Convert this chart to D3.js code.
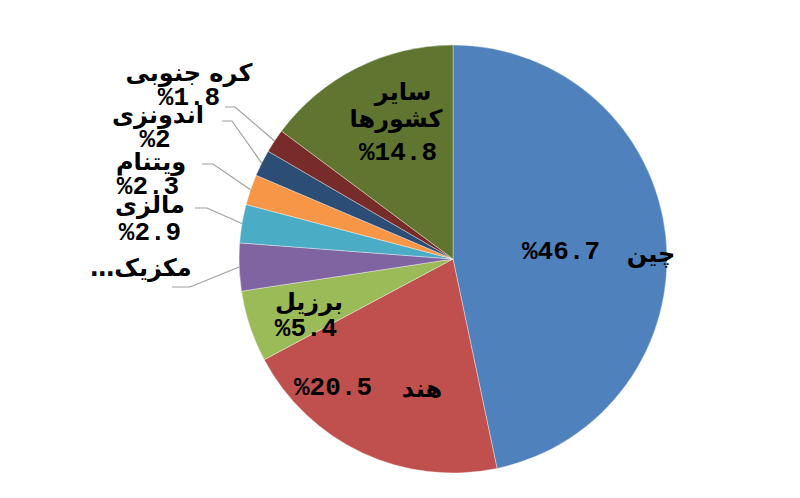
<!DOCTYPE html>
<html><head><meta charset="utf-8">
<script src="https://cdn.jsdelivr.net/npm/d3@7"></script>
<style>
html,body{margin:0;padding:0;background:#fff;}
svg{display:block;}
.num{font-family:"Liberation Mono","Courier New",monospace;font-weight:bold;fill:#000;}
.name{font-family:"DejaVu Sans","Noto Sans",sans-serif;font-weight:bold;fill:#000;}
</style>
</head><body>
<svg id="chart" width="800" height="498"></svg>
<script>
// Data
const categories = ["چین","هند","برزیل","مکزیک","مالزی","ویتنام","اندونزی","کره جنوبی","سایر کشورها"];
const values = [46.7, 20.5, 5.4, 3.6, 2.9, 2.3, 2, 1.8, 14.8];
const valueLabels = ["%46.7","%20.5","%5.4","","%2.9","%2.3","%2","%1.8","%14.8"];
const colors = ["#4F81BD","#C0504D","#9BBB59","#8064A2","#4BACC6","#F79646","#2C4D75","#772C2A","#5F7530"];

// Layout (label placement)
const cx = 453, cy = 259, R = 214;
const nameLines = [
  [{t:"چین", x:651, y:262}],
  [{t:"هند", x:422, y:397}],
  [{t:"برزیل", x:309, y:310}],
  [{t:"مکزیک…", x:141, y:276}],
  [{t:"مالزی", x:150, y:213}],
  [{t:"ویتنام", x:151, y:170}],
  [{t:"اندونزی", x:158, y:123}],
  [{t:"کره جنوبی", x:189, y:81}],
  [{t:"سایر", x:403, y:100},{t:"کشورها", x:396, y:127}]
];
const numPos = [
  {x:561,y:259},{x:333,y:395},{x:306,y:336},null,{x:150,y:240},
  {x:148,y:194},{x:155,y:147},{x:189,y:105},{x:398,y:160}
];
const leaderStart = [null,null,null,
  [[172,287],[190,287]],
  [[195,208],[207,208]],
  [[202,164],[213,164]],
  [[222,121],[232,121]],
  [[225,107],[235,107]],
  null];

const svg = d3.select("#chart");
const g = svg.append("g").attr("transform",`translate(${cx},${cy})`);
const pie = d3.pie().sort(null).value(d=>d);
const arcs = pie(values);
const arc = d3.arc().innerRadius(0).outerRadius(R);
const edge = d3.arc().innerRadius(R).outerRadius(R);

g.selectAll("path.slice").data(arcs).join("path")
  .attr("class","slice")
  .attr("d",arc)
  .attr("fill",(d,i)=>colors[i])
  .attr("stroke","#ffffff").attr("stroke-width",0.6).attr("stroke-opacity",0.6);

// leader lines
const line = d3.line();
arcs.forEach((d,i)=>{
  if(!leaderStart[i]) return;
  const c = edge.centroid(d);
  const pts = leaderStart[i].concat([[c[0]+cx, c[1]+cy]]);
  svg.append("path").attr("d",line(pts)).attr("fill","none")
    .attr("stroke","#a0a0a0").attr("stroke-width",1.2);
});

// names
nameLines.forEach((lines,i)=>{
  lines.forEach(l=>{
    svg.append("text").attr("class","name")
      .attr("x",l.x).attr("y",l.y)
      .attr("text-anchor","middle").attr("direction","rtl")
      .attr("font-size",24).text(l.t);
  });
});
// values
valueLabels.forEach((v,i)=>{
  if(!v) return;
  svg.append("text").attr("class","num")
    .attr("x",numPos[i].x).attr("y",numPos[i].y)
    .attr("text-anchor","middle").attr("direction","ltr")
    .attr("font-size",26).text(v);
});
</script>
</body></html>
